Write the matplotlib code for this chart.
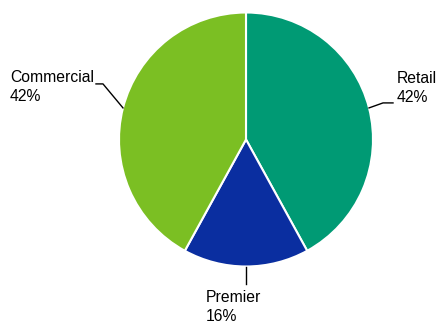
import numpy as np
import matplotlib.pyplot as plt

categories = ['Retail', 'Premier', 'Commercial']
shares = [42, 16, 42]
colors = ['#009a74', '#0a2ea0', '#7bbf23']

H = 323
cx, cy, r = 246, H - 139.5, 127


def main():
    plt.rcParams['font.family'] = ['Liberation Sans', 'DejaVu Sans']
    fig = plt.figure(figsize=(4.37, 3.23), dpi=100)
    ax = fig.add_axes([0, 0, 1, 1])

    wedges, _ = ax.pie(shares, colors=colors, startangle=90, counterclock=False,
                       center=(cx, cy), radius=r, frame=True,
                       wedgeprops=dict(edgecolor='white', linewidth=1.5))
    ax.set_xlim(0, 437)
    ax.set_ylim(0, H)
    ax.set_aspect('equal')
    ax.axis('off')

    # leader lines: elbow offsets in pixels (dx, dy down) from wedge edge
    elbows = {'Retail': [(14, -5), (24, -5)],
              'Premier': [(0, 17)],
              'Commercial': [(-20, -24), (-27, -24)]}
    text_pos = {'Retail': (397, 88, 'left'),
                'Premier': (206, 307, 'left'),
                'Commercial': (10, 87, 'left')}

    for w, name, val in zip(wedges, categories, shares):
        mid = np.deg2rad((w.theta1 + w.theta2) / 2)
        ex, ey = cx + r * np.cos(mid), cy + r * np.sin(mid)
        xs = [ex] + [ex + dx for dx, dy in elbows[name]]
        ys = [ey] + [ey - dy for dx, dy in elbows[name]]
        ax.plot(xs, ys, color='black', linewidth=1)
        tx, ty, ha = text_pos[name]
        ax.text(tx, H - ty, f'{name}\n{val}%', ha=ha, va='center',
                fontsize=11.3, linespacing=1.4)

    fig.savefig('out.png', dpi=100)


if __name__ == '__main__':
    main()
